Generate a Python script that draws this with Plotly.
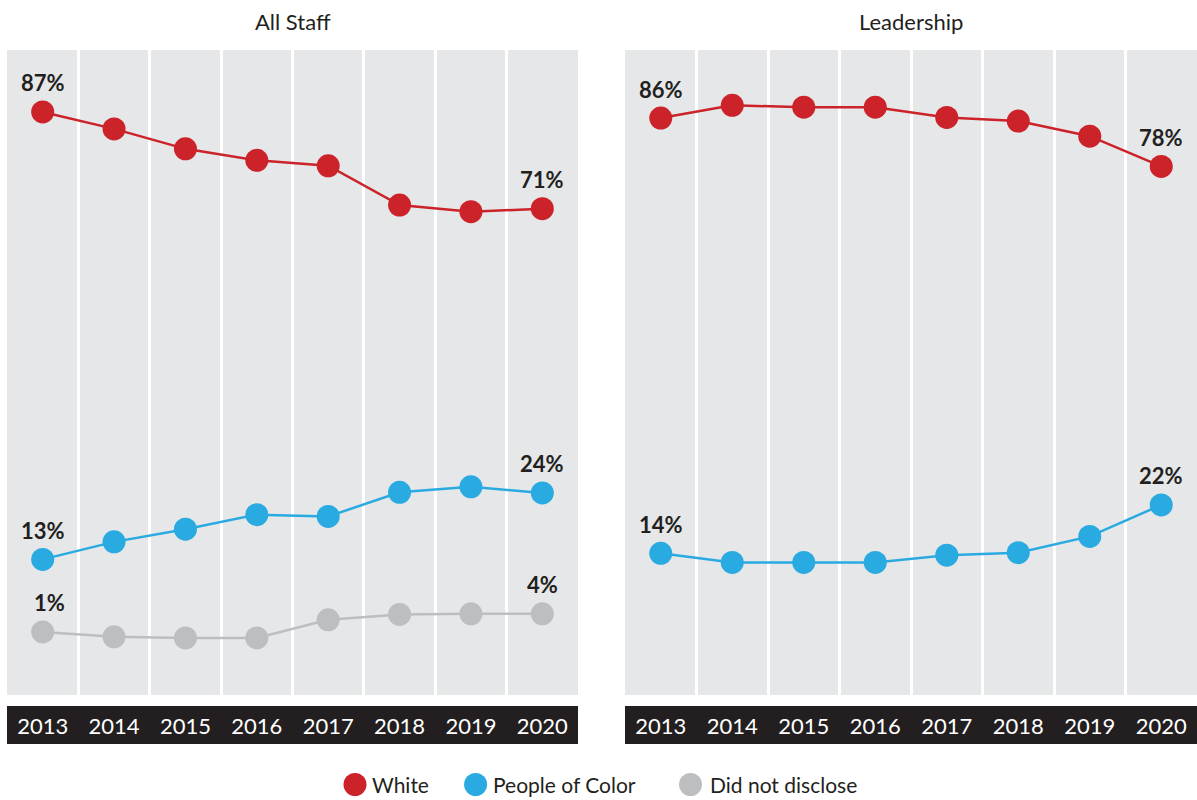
import plotly.graph_objects as go

# ---- data -------------------------------------------------------------
years = [2013, 2014, 2015, 2016, 2017, 2018, 2019, 2020]
panel_titles = ["All Staff", "Leadership"]
series_names = ["White", "People of Color", "Did not disclose"]

staff_white = [87, 84.2, 80.9, 79, 78.1, 71.6, 70.5, 71]
staff_poc = [13, 15.9, 18, 20.4, 20.1, 24.1, 25, 24]
staff_undisclosed = [1, 0.2, 0, 0, 3, 3.9, 4, 4]

lead_white = [86, 88.1, 87.8, 87.8, 86.1, 85.5, 83, 78]
lead_poc = [14, 12.5, 12.5, 12.5, 13.7, 14.1, 16.8, 22]

# ---- style ------------------------------------------------------------
RED = "#cc2229"
BLUE = "#29abe2"
GREY = "#bcbec0"
INK = "#231f20"
PANEL_BG = "#e6e7e8"
FONT = "Lato"
colors = {"White": RED, "People of Color": BLUE, "Did not disclose": GREY}

W, H = 1197, 800
x_domains = [[7 / W, 578 / W], [625 / W, 1.0]]
y_domain = [1 - 695 / H, 1 - 50 / H]

panels = [
    {"White": staff_white, "People of Color": staff_poc, "Did not disclose": staff_undisclosed},
    {"White": lead_white, "People of Color": lead_poc},
]

fig = go.Figure()
annotations = []
shapes = []

for i, panel in enumerate(panels):
    xa = "x" if i == 0 else "x2"
    ya = "y" if i == 0 else "y2"
    for name, vals in panel.items():
        fig.add_trace(go.Scatter(
            x=years, y=vals, name=name, mode="lines+markers",
            line=dict(color=colors[name], width=2.5),
            marker=dict(size=23, color=colors[name]),
            xaxis=xa, yaxis=ya, showlegend=False, cliponaxis=False,
        ))
        # value labels at the first and last year
        annotations.append(dict(
            x=years[0], y=vals[0], xref=xa, yref=ya, text=f"<b>{vals[0]:g}%</b>",
            showarrow=False, xanchor="right", yanchor="middle", xshift=24, yshift=29,
            font=dict(family=FONT, size=22, color=INK),
        ))
        annotations.append(dict(
            x=years[-1], y=vals[-1], xref=xa, yref=ya, text=f"<b>{vals[-1]:g}%</b>",
            showarrow=False, xanchor="center", yanchor="middle", yshift=29,
            font=dict(family=FONT, size=22, color=INK),
        ))

    # panel title
    annotations.append(dict(
        x=0.5, y=1 - 22 / H, xref=f"{xa} domain", yref="paper", text=panel_titles[i],
        showarrow=False, xanchor="center", yanchor="middle",
        font=dict(family=FONT, size=22, color=INK),
    ))
    # dark band behind the year labels
    shapes.append(dict(
        type="rect", xref=f"{xa} domain", yref="paper", x0=0, x1=1,
        y0=1 - 744 / H, y1=1 - 706 / H, fillcolor=INK, line=dict(width=0), layer="below",
    ))

# ---- legend row -------------------------------------------------------
legend_items = [(355, 370), (475.6, 491), (690.5, 708)]
ly = 1 - 784.5 / H
r = 11.5
for (cx, tx), name in zip(legend_items, series_names):
    shapes.append(dict(
        type="circle", xref="paper", yref="paper",
        x0=(cx - r) / W, x1=(cx + r) / W, y0=ly - r / H, y1=ly + r / H,
        fillcolor=colors[name], line=dict(width=0),
    ))
    annotations.append(dict(
        x=tx / W, y=ly, xref="paper", yref="paper", text=name, showarrow=False,
        xanchor="left", yanchor="middle", font=dict(family=FONT, size=21, color=INK),
    ))

column_edges = [y + 0.5 for y in years[:-1]]
xaxis_common = dict(
    range=[years[0] - 0.5, years[-1] + 0.5], tickvals=years, ticktext=[str(y) for y in years],
    showgrid=False, zeroline=False, showline=False, ticks="",
    tickfont=dict(family=FONT, size=22, color="white"), ticklabelstandoff=16,
    minor=dict(tickvals=column_edges, showgrid=True, gridcolor="white", gridwidth=3, ticks=""),
    fixedrange=True,
)
yaxis_common = dict(range=[-9.43, 97.25], domain=y_domain, visible=False, fixedrange=True)

fig.update_layout(
    width=W, height=H, margin=dict(l=0, r=0, t=0, b=0),
    paper_bgcolor="white", plot_bgcolor=PANEL_BG,
    font=dict(family=FONT, color=INK),
    xaxis=dict(domain=x_domains[0], anchor="y", **xaxis_common),
    xaxis2=dict(domain=x_domains[1], anchor="y2", **xaxis_common),
    yaxis=dict(anchor="x", **yaxis_common),
    yaxis2=dict(anchor="x2", **yaxis_common),
    annotations=annotations, shapes=shapes, showlegend=False,
)

fig.write_html("out.html")
